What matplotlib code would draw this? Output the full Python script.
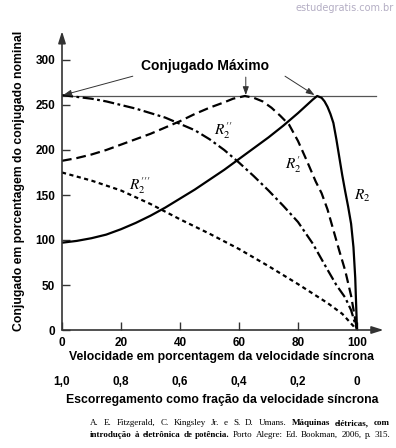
import matplotlib
matplotlib.use("Agg")
import matplotlib.pyplot as plt
from matplotlib.transforms import blended_transform_factory

plt.rcParams['font.family'] = ['Liberation Sans', 'DejaVu Sans']
plt.rcParams['mathtext.fontset'] = 'stix'
plt.rcParams['lines.scale_dashes'] = False

# ---------------- data ----------------
r2_speed = [0, 5, 10, 15, 20, 25, 30, 35, 40, 45, 50, 55, 60, 65, 70, 75, 80, 83, 85,
            86.5, 88, 89, 90, 91, 92, 93, 94, 95, 96, 97, 98, 98.8, 99.4, 100]
r2_torque = [97, 99, 102, 106, 112, 119, 127, 136, 146, 156, 167, 178, 190, 202, 214, 227,
             241, 250, 256, 260, 258, 254, 248, 240, 230, 212, 192, 172, 154, 137, 118, 92, 58, 0]

r2p_speed = [0, 5, 10, 15, 20, 25, 30, 35, 40, 45, 50, 55, 58, 62, 65, 68, 71, 74, 77,
             80, 83, 86, 88, 90, 92, 94, 96, 98, 100]
r2p_torque = [188, 191, 195, 200, 206, 212, 218, 225, 232, 240, 247, 253, 257, 260, 258, 254,
              247, 238, 228, 210, 188, 165, 152, 134, 111, 88, 66, 38, 0]

r2pp_speed = [0, 5, 10, 15, 20, 25, 30, 35, 40, 45, 50, 55, 60, 65, 70, 75, 80, 85, 90,
              93, 96, 98, 100]
r2pp_torque = [261, 259, 257, 254, 250, 246, 241, 236, 229, 222, 212, 200, 186, 171, 155,
               138, 120, 96, 67, 50, 36, 22, 0]

r2ppp_speed = [0, 10, 20, 30, 40, 50, 60, 70, 80, 90, 95, 100]
r2ppp_torque = [175, 166, 155, 140, 123, 107, 90, 71, 51, 30, 18, 0]

max_torque = 260
x_ticks = [0, 20, 40, 60, 80, 100]
y_ticks = [0, 50, 100, 150, 200, 250, 300]
slip_labels = ['1,0', '0,8', '0,6', '0,4', '0,2', '0']

curve_labels = [r"$R_2^{\prime\prime}$", r"$R_2^{\prime}$", r"$R_2$", r"$R_2^{\prime\prime\prime}$"]
label_pos = [(54.5, 221), (78.5, 184), (101.8, 149), (26.5, 160)]

# ---------------- figure ----------------
W, H = 396, 448
fig = plt.figure(figsize=(W / 100, H / 100), dpi=100)
ax = fig.add_axes([62 / W, (H - 330) / H, 324.5 / W, 297 / H])
ax.set_xlim(0, 110)
ax.set_ylim(0, 330)
for s in ax.spines.values():
    s.set_visible(False)

axis_col = '#333333'
# axes with arrow heads
ax.annotate('', xy=(109, 0), xytext=(0, 0), xycoords='data',
            arrowprops=dict(arrowstyle='-|>,head_length=0.7,head_width=0.22', lw=1.2,
                            color=axis_col, shrinkA=0, shrinkB=0), annotation_clip=False)
ax.annotate('', xy=(0, 332), xytext=(0, 0), xycoords='data',
            arrowprops=dict(arrowstyle='-|>,head_length=0.7,head_width=0.22', lw=1.2,
                            color=axis_col, shrinkA=0, shrinkB=0), annotation_clip=False)

ax.set_xticks(x_ticks)
ax.set_yticks(y_ticks)
ax.tick_params(direction='in', length=6, width=1.0, color=axis_col, labelsize=8.5, pad=5)
for lab in ax.get_xticklabels() + ax.get_yticklabels():
    lab.set_fontweight('bold')

# max-torque reference line
ax.plot([0, 106.5], [max_torque, max_torque], color='#555555', lw=0.9, clip_on=False)

# curves
ax.plot(r2_speed, r2_torque, color='black', lw=1.6, solid_capstyle='butt')
ax.plot(r2p_speed, r2p_torque, color='black', lw=1.6, dashes=(7, 3.5))
ax.plot(r2pp_speed, r2pp_torque, color='black', lw=1.6, dashes=(8, 2.5, 2, 2.5))
ax.plot(r2ppp_speed, r2ppp_torque, color='black', lw=1.6, dashes=(3, 2.5))

for txt, (xx, yy) in zip(curve_labels, label_pos):
    ax.text(xx, yy, txt, fontsize=11, ha='center', va='center')

# "Conjugado Máximo" annotation
ax.text(48.5, 293, 'Conjugado Máximo', fontsize=10, fontweight='bold', ha='center', va='center')
arrow_kw = dict(arrowstyle='-|>,head_length=0.5,head_width=0.18', lw=0.7, color='#333333',
                shrinkA=0, shrinkB=0)
ax.annotate('', xy=(0.4, 261), xytext=(24, 282), arrowprops=arrow_kw)
ax.annotate('', xy=(62.3, 261), xytext=(62.3, 281), arrowprops=arrow_kw)
ax.annotate('', xy=(85.6, 261), xytext=(75.6, 282), arrowprops=arrow_kw)

# axis titles
fig.text(222 / W, 1 - 357 / H, 'Velocidade em porcentagem da velocidade síncrona',
         fontsize=8.8, fontweight='bold', ha='center', va='center')
fig.text(19 / W, 1 - 181 / H, 'Conjugado em porcentagem do conjugado nominal',
         fontsize=8.8, fontweight='bold', ha='center', va='center', rotation=90)

trans = blended_transform_factory(ax.transData, fig.transFigure)
for xv, lab in zip(x_ticks, slip_labels):
    ax.text(xv, 1 - 382 / H, lab, transform=trans, fontsize=8.5, fontweight='bold',
            ha='center', va='center')
fig.text(222 / W, 1 - 400 / H, 'Escorregamento como fração da velocidade síncrona',
         fontsize=8.8, fontweight='bold', ha='center', va='center')

# watermark
fig.text(394 / W, 1 - 8 / H, 'estudegratis.com.br', fontsize=7, color='#b4aec4',
         ha='right', va='center', family='DejaVu Sans')

# citation (justified, mixed weight)
line1 = [('A.', 0), ('E.', 0), ('Fitzgerald,', 0), ('C.', 0), ('Kingsley', 0), ('Jr.', 0),
         ('e', 0), ('S.', 0), ('D.', 0), ('Umans.', 0), ('Máquinas', 1), ('elétricas,', 1),
         ('com', 1)]
line2 = [('introdução', 1), ('à', 1), ('eletrônica', 1), ('de', 1), ('potência.', 1),
         ('Porto', 0), ('Alegre:', 0), ('Ed.', 0), ('Bookman,', 0), ('2006,', 0),
         ('p.', 0), ('315.', 0)]


def justified(pieces, x0, x1, ypx, size=6.5):
    texts = [fig.text(0, 1 - ypx / H, w, fontsize=size, family='Liberation Serif',
                      fontweight='bold' if b else 'normal', va='center', ha='left')
             for w, b in pieces]
    r = fig.canvas.get_renderer()
    widths = [t.get_window_extent(r).width for t in texts]
    gap = (x1 - x0 - sum(widths)) / (len(texts) - 1)
    x = x0
    for t, w in zip(texts, widths):
        t.set_x(x / W)
        x += w + gap
    return texts


justified(line1, 90, 390, 423)
justified(line2, 90, 390, 435)

fig.savefig('out.png', dpi=100)
